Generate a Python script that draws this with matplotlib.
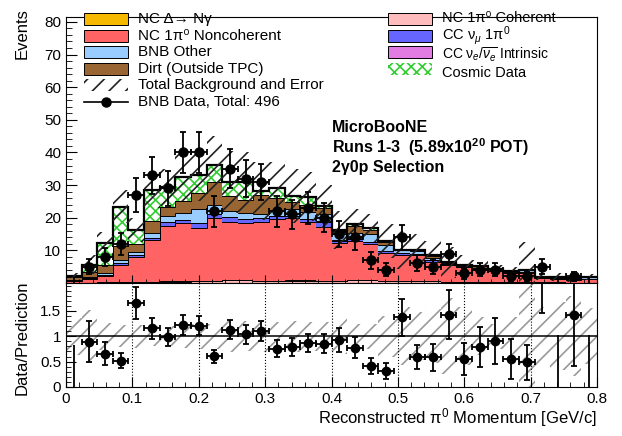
import numpy as np
import matplotlib
matplotlib.use("Agg")
import matplotlib.pyplot as plt
from matplotlib.patches import Rectangle
from matplotlib.lines import Line2D

plt.rcParams['font.family'] = ['Liberation Sans', 'DejaVu Sans']
plt.rcParams['mathtext.fontset'] = 'custom'
plt.rcParams['mathtext.rm'] = 'Liberation Sans'
plt.rcParams['mathtext.it'] = 'Liberation Sans:italic'
plt.rcParams['mathtext.bf'] = 'Liberation Sans:bold'
plt.rcParams['hatch.linewidth'] = 1.2

# 34 bins from 0 to 0.8 GeV/c
edges = np.linspace(0, 0.8, 35)

nc_coherent = [0.1, 0.1, 0.2, 0.2, 0.3, 0.3, 0.4, 0.4, 0.5, 0.5, 0.8, 0.8, 0.6, 0.6, 0.7, 0.7, 0.6,
               0.6, 0.8, 0.8, 0.7, 0.6, 0.5, 0.5, 0.4, 0.4, 0.3, 0.3, 0.2, 0.2, 0.2, 0.2, 0.1, 0.1]
nc_delta = [0.0, 0.0, 0.0, 0.1, 0.1, 0.1, 0.1, 0.1, 0.1, 0.1, 0.1, 0.1, 0.1, 0.1, 0.1, 0.1, 0.1,
            0.1, 0.1, 0.1, 0.0, 0.0, 0.0, 0.0, 0.0, 0.0, 0.0, 0.0, 0.0, 0.0, 0.0, 0.0, 0.0, 0.0]
nc_noncoh = [0.4, 1.1, 2.0, 5.2, 7.6, 12.8, 17.0, 18.0, 16.2, 19.2, 17.9, 17.6, 18.1, 18.8, 19.0, 18.0, 16.6,
             11.5, 12.1, 11.0, 8.6, 8.0, 8.1, 6.0, 5.1, 4.4, 3.7, 3.3, 3.0, 3.0, 1.2, 1.1, 0.9, 1.0]
cc_numu = [0.1, 0.3, 0.4, 0.5, 0.6, 0.6, 1.1, 0.8, 1.5, 1.2, 1.4, 1.0, 1.0, 1.0, 0.8, 0.8, 1.5,
           0.8, 0.6, 0.7, 0.6, 0.5, 0.4, 0.5, 0.3, 0.2, 0.2, 0.2, 0.1, 0.1, 0.1, 0.1, 0.1, 0.1]
cc_nue = [0.0, 0.0, 0.0, 0.0, 0.05, 0.05, 0.05, 0.05, 0.05, 0.05, 0.05, 0.05, 0.05, 0.05, 0.05, 0.05, 0.05,
          0.05, 0.05, 0.05, 0.05, 0.0, 0.0, 0.0, 0.0, 0.0, 0.0, 0.0, 0.0, 0.0, 0.0, 0.0, 0.0, 0.0]
bnb_other = [0.2, 0.4, 0.6, 1.2, 1.0, 1.4, 2.0, 2.2, 4.2, 2.8, 1.8, 1.8, 1.4, 1.5, 1.9, 2.2, 2.4,
             2.5, 1.6, 2.4, 1.8, 0.9, 0.8, 0.8, 0.4, 0.3, 0.3, 0.4, 0.2, 0.6, 0.3, 0.3, 0.2, 0.5]
dirt = [1.0, 1.5, 2.3, 4.0, 2.2, 3.6, 2.6, 3.5, 5.0, 7.0, 4.5, 4.2, 5.8, 4.0, 2.3, 2.2, 1.8,
        0.4, 2.3, 1.3, 0.8, 0.1, 0.3, 0.4, 0.1, 0.1, 0.6, 0.2, 0.1, 0.2, 0.1, 0.1, 0.1, 0.1]
cosmic = [0.4, 2.2, 6.7, 12.2, 4.5, 9.7, 6.1, 7.5, 5.5, 5.4, 4.5, 5.3, 1.2, 3.0, 1.9, 2.4, 0.4,
          0.3, 0.5, 0.5, 0.3, 0.1, 0.1, 0.3, 0.0, 0.0, 0.0, 0.0, 0.0, 0.0, 0.0, 0.0, 0.0, 0.0]
mc_err = [0.8, 2.9, 3.3, 5.1, 3.7, 5.5, 5.7, 7.5, 8.0, 8.8, 9.5, 9.2, 8.8, 8.0, 8.3, 7.6, 6.6,
          5.8, 4.5, 4.2, 5.2, 5.8, 4.8, 4.5, 4.7, 3.1, 1.9, 1.1, 1.4, 8.6, 1.1, 1.2, 1.1, 1.0]

bnb_data = [0, 5, 8, 12, 27, 33, 29, 40, 40, 22, 35, 32, 31, 22, 21, 23, 20,
            15, 14, 7, 4, 14, 6, 5, 9, 3, 4, 4, 2, 2, 5, 0, 2, 0]

xticks = [0, 0.1, 0.2, 0.3, 0.4, 0.5, 0.6, 0.7, 0.8]
xticklabels = ['0', '0.1', '0.2', '0.3', '0.4', '0.5', '0.6', '0.7', '0.8']

c_delta, c_noncoh, c_coh = '#f7b900', '#ff6363', '#ffbcbc'
c_numu, c_nue, c_other, c_dirt, c_cosmic = '#6666ff', '#e27be2', '#99ccff', '#996633', '#33cc33'

layers = [
    (nc_coherent, c_coh),
    (nc_delta, c_delta),
    (nc_noncoh, c_noncoh),
    (cc_numu, c_numu),
    (cc_nue, c_nue),
    (bnb_other, c_other),
    (dirt, c_dirt),
]

fig = plt.figure(figsize=(6.22, 4.36), dpi=100)
W, H = 622.0, 436.0
ax1 = fig.add_axes([66 / W, 1 - 283 / H, 531 / W, (283 - 17) / H])
ax2 = fig.add_axes([66 / W, 1 - 387 / H, 531 / W, (387 - 283) / H])

bw = edges[1] - edges[0]
centers = 0.5 * (edges[:-1] + edges[1:])
bottom = np.zeros(len(centers))
for vals, col in layers:
    v = np.array(vals)
    ax1.bar(edges[:-1], v, width=bw, bottom=bottom, align='edge', color=col, linewidth=0)
    ax1.stairs(bottom + v, edges, baseline=None, color='black', lw=0.7)
    bottom = bottom + v
cos = np.array(cosmic)
ax1.bar(edges[:-1], cos, width=bw, bottom=bottom, align='edge', facecolor='white',
        edgecolor=c_cosmic, hatch='xxx', linewidth=0)
total = bottom + cos
ax1.stairs(total, edges, baseline=None, color='black', lw=1.6)

err = np.array(mc_err)
ax1.bar(edges[:-1], 2 * err, width=bw, bottom=total - err, align='edge', fill=False,
        edgecolor='#222222', hatch='//', linewidth=0)

data = np.array(bnb_data, dtype=float)
derr_lo = np.sqrt(data)
derr_hi = np.where(data > 0, np.sqrt(data), 1.84)
has = data > 0
ax1.errorbar(centers[has], data[has], yerr=[derr_lo[has], derr_hi[has]], xerr=bw / 2,
             fmt='o', color='black', ms=6.5, elinewidth=1.3, capsize=2.5, capthick=1.3)
ax1.errorbar(centers[~has], data[~has], yerr=[derr_lo[~has], derr_hi[~has]],
             fmt='none', ecolor='black', elinewidth=1.3, capsize=0)

ax1.set_xlim(0, 0.8)
ax1.set_ylim(0, 81.5)
ax1.set_yticks([10, 20, 30, 40, 50, 60, 70, 80])
ax1.set_yticks(np.arange(0, 82, 2), minor=True)
ax1.set_xticks(xticks)
ax1.set_xticks(np.arange(0, 0.81, 0.02), minor=True)
ax1.tick_params(axis='both', which='both', direction='in', labelsize=11)
ax1.tick_params(axis='y', which='major', length=8)
ax1.tick_params(axis='y', which='minor', length=4)
ax1.tick_params(axis='x', which='major', length=6, labelbottom=False)
ax1.tick_params(axis='x', which='minor', length=3)

# legend, drawn by hand in pixel positions (two columns, rows 16.5 px apart)
left_entries = [
    (dict(facecolor=c_delta, edgecolor='black', lw=0.7), 'NC Δ→ Nγ'),
    (dict(facecolor=c_noncoh, edgecolor='black', lw=0.7), 'NC 1π⁰ Noncoherent'),
    (dict(facecolor=c_other, edgecolor='black', lw=0.7), 'BNB Other'),
    (dict(facecolor=c_dirt, edgecolor='black', lw=0.7), 'Dirt (Outside TPC)'),
    (dict(fill=False, edgecolor='#222222', hatch='//', lw=0), 'Total Background and Error'),
    (None, 'BNB Data, Total: 496'),
]
right_entries = [
    (dict(facecolor=c_coh, edgecolor='black', lw=0.7), 'NC 1π⁰ Coherent'),
    (dict(facecolor=c_numu, edgecolor='black', lw=0.7), r'CC ν$_\mu$ 1π$^0$'),
    (dict(facecolor=c_nue, edgecolor='black', lw=0.7), r'CC ν$_e$/$\overline{\nu_e}$ Intrinsic'),
    (dict(facecolor='white', edgecolor=c_cosmic, hatch='xxx', lw=0), 'Cosmic Data'),
]
text_shift = {(388, 0): -2.0, (388, 2): 2.0, (388, 3): 4.0}
for x0, entries in [(84, left_entries), (388, right_entries)]:
    for i, (style, label) in enumerate(entries):
        yc = 19.5 + 16.5 * i
        if style is None:
            fig.add_artist(Line2D([x0 / W, (x0 + 44) / W], [1 - yc / H] * 2, color='black', lw=1.2,
                                  transform=fig.transFigure))
            fig.add_artist(Line2D([(x0 + 22) / W], [1 - yc / H], color='black', marker='o', ms=6.5,
                                  transform=fig.transFigure))
        else:
            fig.add_artist(Rectangle((x0 / W, 1 - (yc + 6) / H), 44 / W, 12 / H,
                                     transform=fig.transFigure, **style))
        ty = yc + text_shift.get((x0, i), 0)
        size = 11 if x0 == 84 else (10 if i == 2 else 10.5)
        fig.text((x0 + 54) / W, 1 - ty / H, label, ha='left', va='center', fontsize=size)

ax1.text(0.5, 0.585, 'MicroBooNE', transform=ax1.transAxes, fontsize=11.5,
         fontweight='bold', ha='left', va='center')
ax1.text(0.5, 0.51, r'Runs 1-3  (5.89x10$^{\mathbf{20}}$ POT)', transform=ax1.transAxes,
         fontsize=11.5, fontweight='bold', ha='left', va='center')
ax1.text(0.5, 0.435, '2γ0p Selection', transform=ax1.transAxes, fontsize=11.5,
         fontweight='bold', ha='left', va='center')

# ratio panel
ratio = data / total
rerr_lo = derr_lo / total
rerr_hi = derr_hi / total
band = err / total
ax2.bar(edges[:-1], 2 * band, width=bw, bottom=1 - band, align='edge', fill=False,
        edgecolor='#999999', hatch='//', linewidth=0)
ax2.axhline(1, color='black', lw=1.1)
ax2.errorbar(centers[has], ratio[has], yerr=[rerr_lo[has], rerr_hi[has]], xerr=bw / 2,
             fmt='o', color='black', ms=6, elinewidth=1.3, capsize=2.5, capthick=1.3)
ax2.errorbar(centers[~has], ratio[~has], yerr=[rerr_lo[~has], rerr_hi[~has]],
             fmt='none', ecolor='black', elinewidth=1.3, capsize=0)
ax2.set_xlim(0, 0.8)
ax2.set_ylim(0, 2.05)
ax2.set_xticks(xticks)
ax2.set_xticklabels(xticklabels)
ax2.set_xticks(np.arange(0, 0.81, 0.02), minor=True)
ax2.set_yticks([0, 0.5, 1, 1.5])
ax2.set_yticklabels(['0', '0.5', '1', '1.5'])
ax2.set_yticks(np.arange(0, 2.01, 0.1), minor=True)
ax2.grid(axis='x', which='major', color='black', linestyle=':', lw=0.8)
ax2.tick_params(axis='both', which='both', direction='in', labelsize=11)
ax2.tick_params(axis='both', which='major', length=7)
ax2.tick_params(axis='both', which='minor', length=3.5)

fig.text(22 / W, 1 - 8 / H, 'Events', rotation=90, ha='center', va='top', fontsize=12)
fig.text(22 / W, 1 - 338 / H, 'Data/Prediction', rotation=90, ha='center', va='center', fontsize=12)
fig.text(597 / W, 1 - 418 / H, 'Reconstructed π$^0$ Momentum [GeV/c]', ha='right',
         va='center', fontsize=12)

fig.savefig('out.png', dpi=100)
